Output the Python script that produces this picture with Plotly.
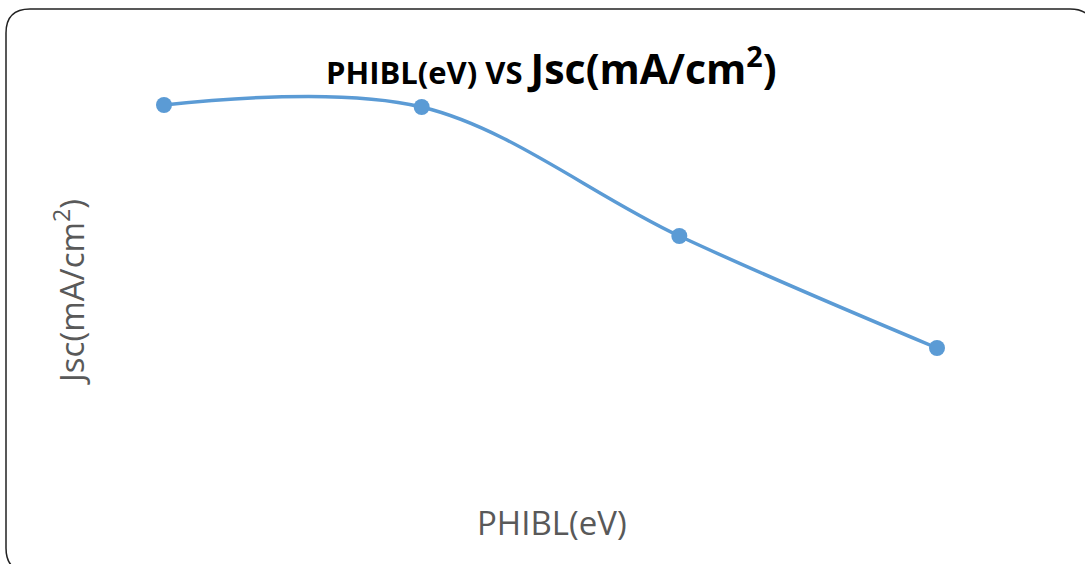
import plotly.graph_objects as go

# ---- data ----
phibl = [0.7, 0.8, 0.9, 1.0]          # PHIBL (eV)
jsc = [34.20, 34.16, 31.58, 29.34]    # Jsc (mA/cm^2)
title_small = "PHIBL(eV) VS "
title_big = "Jsc(mA/cm<sup>2</sup>)"
x_title = "PHIBL(eV)"
y_title = "Jsc(mA/cm<sup>2</sup>)"

W, H = 1085, 564
FONT = "Open Sans"
BLUE = "#5B9BD5"
GREY = "#595959"

# axis ranges chosen so the plot fills the whole paper (margins are zero)
px0, px3 = 164, 937
dx = (phibl[3] - phibl[0]) / (px3 - px0)
xmin = phibl[0] - px0 * dx
xmax = xmin + W * dx
py0, py3 = 105, 348
dy = (jsc[0] - jsc[3]) / (py3 - py0)
ymax = jsc[0] + py0 * dy
ymin = ymax - H * dy

fig = go.Figure()
fig.add_trace(go.Scatter(
    x=phibl, y=jsc, mode="lines+markers",
    line=dict(color=BLUE, width=3.5, shape="spline", smoothing=1.0),
    marker=dict(color=BLUE, size=16),
    showlegend=False, hoverinfo="skip"))

def px(x):
    return x / W

def py(y):
    return 1 - y / H

# rounded frame
L, T, R, B, r = 6, 9, 1094, 572, 24
path = (f"M {px(L)},{py(T + r)} Q {px(L)},{py(T)} {px(L + r)},{py(T)} "
        f"L {px(R - r)},{py(T)} Q {px(R)},{py(T)} {px(R)},{py(T + r)} "
        f"L {px(R)},{py(B - r)} Q {px(R)},{py(B)} {px(R - r)},{py(B)} "
        f"L {px(L + r)},{py(B)} Q {px(L)},{py(B)} {px(L)},{py(B - r)} Z")
fig.add_shape(type="path", path=path, xref="paper", yref="paper",
              line=dict(color="#222222", width=1.5), layer="below")

fig.add_annotation(
    x=px(551), y=py(66), xref="paper", yref="paper", showarrow=False,
    text=f"<b><span style='font-size:31px'>{title_small}</span>"
         f"<span style='font-size:41px'>{title_big}</span></b>",
    font=dict(family=FONT, color="#000000", size=41),
    xanchor="center", yanchor="middle")
fig.add_annotation(
    x=px(552), y=py(522), xref="paper", yref="paper", showarrow=False,
    text=x_title, font=dict(family=FONT, color=GREY, size=33),
    xanchor="center", yanchor="middle")
fig.add_annotation(
    x=px(69), y=py(292), xref="paper", yref="paper", showarrow=False,
    text=y_title, textangle=-90, font=dict(family=FONT, color=GREY, size=33),
    xanchor="center", yanchor="middle")

fig.update_layout(
    width=W, height=H,
    margin=dict(l=0, r=0, t=0, b=0, autoexpand=False),
    paper_bgcolor="white", plot_bgcolor="white",
    xaxis=dict(range=[xmin, xmax], visible=False, fixedrange=True),
    yaxis=dict(range=[ymin, ymax], visible=False, fixedrange=True),
)
fig.write_html("out.html", config={"displayModeBar": False})
